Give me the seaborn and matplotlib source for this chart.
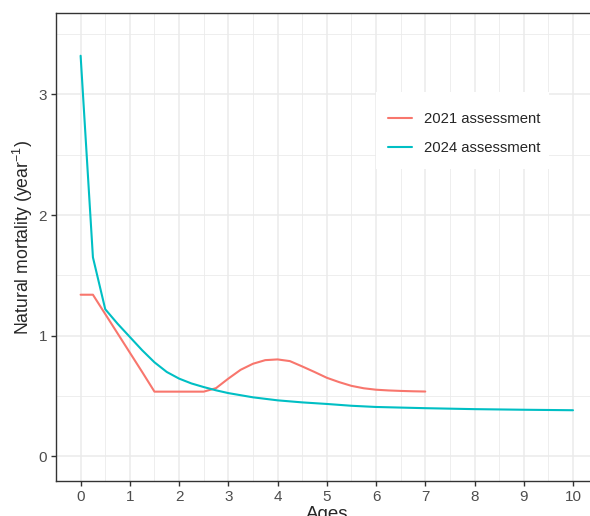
import numpy as np
import pandas as pd
import matplotlib
matplotlib.use("Agg")
import matplotlib.pyplot as plt
import seaborn as sns
from matplotlib.ticker import MultipleLocator
from matplotlib.patches import Rectangle

# Natural mortality at age
ages_2021 = [0, 0.25, 0.5, 0.75, 1, 1.25, 1.5, 1.75, 2, 2.25, 2.5, 2.75, 3, 3.25, 3.5,
             3.75, 4, 4.25, 4.5, 4.75, 5, 5.25, 5.5, 5.75, 6, 6.25, 6.5, 6.75, 7]
m_2021 = [1.34, 1.34, 1.18, 1.02, 0.86, 0.70, 0.537, 0.537, 0.537, 0.537, 0.537, 0.566,
          0.645, 0.718, 0.768, 0.798, 0.804, 0.79, 0.746, 0.70, 0.652, 0.616, 0.585,
          0.565, 0.553, 0.547, 0.543, 0.54, 0.538]

ages_2024 = [0, 0.25, 0.5, 0.75, 1, 1.25, 1.5, 1.75, 2, 2.25, 2.5, 2.75, 3, 3.5, 4,
             4.5, 5, 5.5, 6, 7, 8, 9, 10]
m_2024 = [3.32, 1.65, 1.22, 1.10, 0.99, 0.88, 0.78, 0.70, 0.645, 0.605, 0.575, 0.548,
          0.525, 0.49, 0.465, 0.448, 0.435, 0.42, 0.41, 0.40, 0.392, 0.387, 0.383]

labels = ["2021 assessment", "2024 assessment"]
colors = ["#F8766D", "#00BFC4"]

df = pd.concat([
    pd.DataFrame({"Ages": ages_2021, "M": m_2021, "Assessment": labels[0]}),
    pd.DataFrame({"Ages": ages_2024, "M": m_2024, "Assessment": labels[1]}),
])

sns.set_style("white")
plt.rcParams["font.family"] = ["Liberation Sans", "DejaVu Sans"]
plt.rcParams["mathtext.fontset"] = "custom"
plt.rcParams["mathtext.rm"] = "Liberation Sans"
plt.rcParams["mathtext.it"] = "Liberation Sans:italic"

fig = plt.figure(figsize=(5.9, 5.16), dpi=100)
ax = fig.add_axes([56 / 590, 35.4 / 516, 541.6 / 590, 467.1 / 516])

sns.lineplot(data=df, x="Ages", y="M", hue="Assessment", palette=colors,
             linewidth=1.5, ax=ax, sort=False)

ax.set_xlim(-0.5, 10.5)
ax.set_ylim(-0.2, 3.67)
ax.xaxis.set_major_locator(MultipleLocator(1))
ax.xaxis.set_minor_locator(MultipleLocator(0.5))
ax.yaxis.set_major_locator(MultipleLocator(1))
ax.yaxis.set_minor_locator(MultipleLocator(0.5))
ax.grid(which="major", color="#EBEBEB", linewidth=1.1)
ax.grid(which="minor", color="#EBEBEB", linewidth=0.6)
ax.set_axisbelow(True)
for s in ax.spines.values():
    s.set_color("#333333")
    s.set_linewidth(1.0)
ax.tick_params(which="major", length=3.5, width=1.0, color="#333333",
               labelcolor="#4D4D4D", labelsize=11, pad=3, direction="out",
               bottom=True, left=True)
ax.tick_params(which="minor", length=0)

ax.set_xlabel("Ages", fontsize=13.5, labelpad=2)
ax.set_ylabel("Natural mortality (year$^{-1}$)", fontsize=12.7)
ax.yaxis.set_label_coords(-0.039, 0.52)

# white legend key box, as in the reference
ax.add_patch(Rectangle((376 / 590, 1 - 169 / 516), 173 / 590, 77 / 516,
                       transform=fig.transFigure, facecolor="white",
                       edgecolor="none", zorder=2.5, clip_on=False))
leg = ax.legend(title=None, loc="upper left",
                bbox_to_anchor=(388 / 590, 1 - 112 / 516),
                bbox_transform=fig.transFigure, borderaxespad=0, frameon=False,
                fontsize=10.7, handlelength=1.6, handletextpad=0.85,
                labelspacing=1.0, borderpad=0)
leg.set_zorder(3)

fig.savefig("out.png", dpi=100)
